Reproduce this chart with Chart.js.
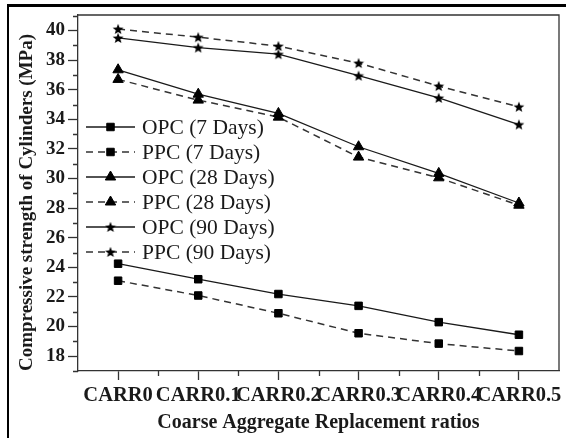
<!DOCTYPE html>
<html>
<head>
<meta charset="utf-8">
<script src="https://cdn.jsdelivr.net/npm/chart.js@4.4.0/dist/chart.umd.min.js"></script>
<style>
html, body { margin: 0; padding: 0; background: #fff; }
#wrap { position: relative; width: 566px; height: 438px; overflow: hidden; }
#frame { position: absolute; left: 7px; top: 4px; right: -10px; bottom: -10px; border-left: 2.5px solid #000; border-top: 3px solid #000; }
</style>
</head>
<body>
<div id="wrap"><canvas id="c" width="566" height="438"></canvas><div id="frame"></div></div>
<script>
// data
const categories = ['CARR0', 'CARR0.1', 'CARR0.2', 'CARR0.3', 'CARR0.4', 'CARR0.5'];
const opc7 = [24.25, 23.2, 22.2, 21.4, 20.3, 19.45];
const ppc7 = [23.1, 22.1, 20.9, 19.55, 18.85, 18.35];
const opc28 = [37.35, 35.7, 34.4, 32.15, 30.35, 28.35];
const ppc28 = [36.7, 35.3, 34.15, 31.45, 30.05, 28.2];
const opc90 = [39.5, 38.85, 38.4, 36.95, 35.45, 33.65];
const ppc90 = [40.1, 39.55, 38.95, 37.8, 36.25, 34.85];
const yTicks = [18, 20, 22, 24, 26, 28, 30, 32, 34, 36, 38, 40];

const serif = "'Liberation Serif', 'Times New Roman', serif";
const ink = '#1a1a1a';

// filled five point star used as marker
function makeStar(size) {
    const c = document.createElement('canvas');
    c.width = size; c.height = size;
    const g = c.getContext('2d');
    const cx = size / 2, cy = size / 2 + 0.5, ro = size / 2 - 0.3, ri = ro * 0.42;
    g.beginPath();
    for (let i = 0; i < 10; i++) {
        const r = i % 2 ? ri : ro;
        const a = -Math.PI / 2 + i * Math.PI / 5;
        g.lineTo(cx + r * Math.cos(a), cy + r * Math.sin(a));
    }
    g.closePath();
    g.fillStyle = '#000';
    g.fill();
    return c;
}
const star = makeStar(12);

function series(label, data, dashed, pointStyle, radius) {
    return {
        label: label,
        data: data,
        borderColor: dashed ? '#333' : ink,
        borderWidth: dashed ? 1.5 : 1.3,
        borderDash: dashed ? [7, 5] : [],
        pointStyle: pointStyle,
        pointRadius: radius,
        pointBackgroundColor: '#000',
        pointBorderColor: '#000',
        pointBorderWidth: 1,
        fill: false,
        tension: 0
    };
}

// minor ticks, top/right frame and the in-plot legend
const frameAndLegend = {
    id: 'frameAndLegend',
    afterDraw(chart) {
        const {ctx, chartArea: a, scales: {x, y}} = chart;
        ctx.save();
        ctx.strokeStyle = '#333';
        ctx.lineWidth = 1.3;
        ctx.beginPath();
        ctx.moveTo(a.left, a.top);
        ctx.lineTo(a.right, a.top);
        ctx.lineTo(a.right, a.bottom);
        const minor = yTicks.map(v => v + 1).concat([yTicks[0] - 1]);
        minor.forEach(v => {
            if (v < y.min || v > y.max) return;
            const py = Math.round(y.getPixelForValue(v)) + 0.5;
            ctx.moveTo(a.left - 5, py);
            ctx.lineTo(a.left, py);
        });
        for (let i = 0; i < categories.length - 1; i++) {
            const px = Math.round((x.getPixelForTick(i) + x.getPixelForTick(i + 1)) / 2) + 0.5;
            ctx.moveTo(px, a.bottom);
            ctx.lineTo(px, a.bottom + 5);
        }
        ctx.stroke();

        // legend
        ctx.font = '21.5px ' + serif;
        ctx.textBaseline = 'middle';
        ctx.fillStyle = ink;
        chart.data.datasets.forEach((ds, i) => {
            const yy = a.top + 112 + i * 25;
            const x0 = a.left + 8, x1 = a.left + 57, cx = (x0 + x1) / 2;
            ctx.strokeStyle = ds.borderColor;
            ctx.lineWidth = ds.borderWidth;
            ctx.setLineDash(ds.borderDash);
            ctx.beginPath();
            ctx.moveTo(x0, yy);
            ctx.lineTo(x1, yy);
            ctx.stroke();
            ctx.setLineDash([]);
            ctx.fillStyle = '#000';
            ctx.strokeStyle = '#000';
            ctx.lineWidth = 1;
            Chart.helpers.drawPoint(ctx, {pointStyle: ds.pointStyle, radius: ds.pointRadius, borderWidth: 1, rotation: 0}, cx, yy);
            ctx.fillStyle = ink;
            ctx.fillText(ds.label, a.left + 64, yy + 1);
        });
        ctx.restore();
    }
};

new Chart(document.getElementById('c'), {
    type: 'line',
    data: {
        labels: categories,
        datasets: [
            series('OPC (7 Days)', opc7, false, 'rect', 5.3),
            series('PPC (7 Days)', ppc7, true, 'rect', 5.3),
            series('OPC (28 Days)', opc28, false, 'triangle', 6),
            series('PPC (28 Days)', ppc28, true, 'triangle', 6),
            series('OPC (90 Days)', opc90, false, star, 6),
            series('PPC (90 Days)', ppc90, true, star, 6)
        ]
    },
    options: {
        responsive: false,
        animation: false,
        layout: { padding: { left: 0, top: 15, right: 4.5, bottom: 0 } },
        plugins: {
            legend: { display: false },
            tooltip: { enabled: false }
        },
        scales: {
            x: {
                type: 'category',
                offset: true,
                grid: { display: true, drawOnChartArea: false, offset: false, tickLength: 9, tickColor: '#333', tickWidth: 1.3 },
                border: { color: '#333', width: 1.3 },
                ticks: { autoSkip: false, maxRotation: 0, minRotation: 0, padding: 3, color: ink, font: { family: serif, size: 20.5, weight: 'bold' } },
                title: { display: true, text: 'Coarse Aggregate Replacement ratios', color: ink, font: { family: serif, size: 20, weight: 'bold' }, padding: { top: 0, bottom: 3 } },
                afterFit: s => { s.height = 67; }
            },
            y: {
                min: 17,
                max: 41.05,
                afterBuildTicks: s => { s.ticks = yTicks.map(v => ({ value: v })); },
                grid: { display: true, drawOnChartArea: false, tickLength: 10, tickColor: '#333', tickWidth: 1.3 },
                border: { color: '#333', width: 1.3 },
                ticks: { padding: 3, color: ink, font: { family: serif, size: 19, weight: 'bold' } },
                title: { display: true, text: 'Compressive strength of Cylinders (MPa)    ', color: ink, font: { family: serif, size: 19, weight: 'bold' }, padding: { top: 16, bottom: 0 } },
                afterFit: s => { s.width = 78; }
            }
        }
    },
    plugins: [frameAndLegend]
});
</script>
</body>
</html>
